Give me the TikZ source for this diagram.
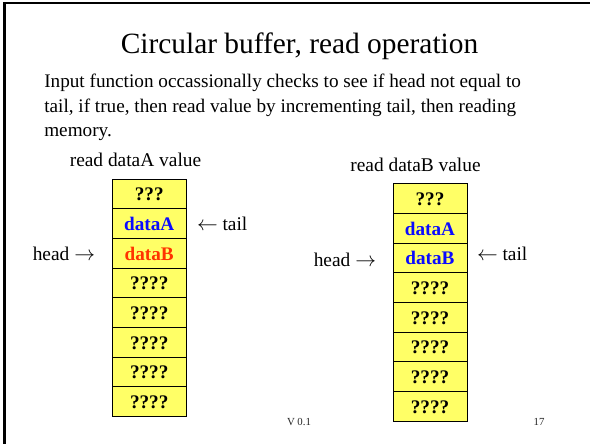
\documentclass[tikz,border=0pt]{standalone}
\usepackage{fontspec}
\setmainfont{Liberation Serif}
\definecolor{cellyellow}{RGB}{255,255,102}
\definecolor{datablue}{RGB}{10,10,255}
\definecolor{datared}{RGB}{255,51,0}
\begin{document}
\begin{tikzpicture}[x=1pt,y=-1pt,
  every node/.style={inner sep=0pt, outer sep=0pt},
  cell/.style={draw=black, line width=0.8pt, fill=cellyellow,
    minimum width=74pt, minimum height=29.65pt,
    text height=14pt, text depth=0pt,
    font=\fontsize{19.2}{23}\selectfont\bfseries},
  label/.style={font=\fontsize{19.4}{23}\selectfont},
  body/.style={anchor=base west, font=\fontsize{19.2}{24.5}\selectfont},
  foot/.style={anchor=base, font=\fontsize{10.8}{13}\selectfont, text=black!85}]
\useasboundingbox (0,0) rectangle (590,444);
\fill[white] (0,0) rectangle (590,444);

% slide frame (only the top and left edges fall inside the page)
\draw[line width=2.5pt] (4.5,444) -- (4.5,3) -- (590,3);

% title and description
\node[anchor=base, font=\fontsize{29.4}{34}\selectfont] (title) at (299.5,53.3)
  {Circular buffer, read operation};
\node[body] (b1) at (44.3,87.7) {Input function occassionally checks to see if head not equal to};
\node[body] (b2) at (44.3,112.2) {tail, if true, then read value by incrementing tail, then reading};
\node[body] (b3) at (44.3,136.7) {memory.};

% left buffer: before reading dataA
\node[label, anchor=base] (capA) at (135.5,166.7) {read dataA value};
\foreach \i/\t in {1/{???},2/{\textcolor{datablue}{dataA}},3/{\textcolor{datared}{dataB}},
                   4/{????},5/{????},6/{????},7/{????},8/{????}}
  \node[cell] (L\i) at (149.2,{179+(\i-0.5)*29.65}) {\t};
\node[label, anchor=base east] (headL) at (95,260.7) {head $\rightarrow$};
\node[label, anchor=base west] (tailL) at (197,230.7) {$\leftarrow$ tail};

% right buffer: before reading dataB
\node[label, anchor=base] (capB) at (415.5,171.7) {read dataB value};
\foreach \i/\t in {1/{???},2/{\textcolor{datablue}{dataA}},3/{\textcolor{datablue}{dataB}},
                   4/{????},5/{????},6/{????},7/{????},8/{????}}
  \node[cell] (R\i) at (430,{183.7+(\i-0.5)*29.66}) {\t};
\node[label, anchor=base east] (headR) at (376,266) {head $\rightarrow$};
\node[label, anchor=base west] (tailR) at (477,260.7) {$\leftarrow$ tail};

% footer
\node[foot] (ver) at (299,425) {V 0.1};
\node[foot] (page) at (539,425) {17};
\end{tikzpicture}
\end{document}
